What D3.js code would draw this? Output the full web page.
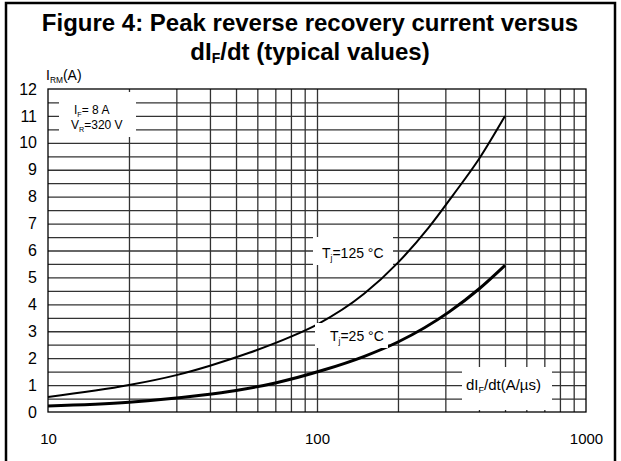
<!DOCTYPE html>
<html>
<head>
<meta charset="utf-8">
<script src="https://cdn.jsdelivr.net/npm/d3@7"></script>
<style>
  body { margin: 0; background: #fff; }
  svg { display: block; font-family: "Liberation Sans", Arial, sans-serif; }
</style>
</head>
<body>
<div id="chart"></div>
<script>
// values
const didt125 = [10, 20, 30, 40, 56, 80, 100, 150, 200, 260, 320, 400, 500];
const irm125 = [0.56, 1.0, 1.37, 1.72, 2.2, 2.8, 3.25, 4.4, 5.55, 6.85, 8.05, 9.4, 11.0];
const didt25 = [10, 20, 37, 50, 70, 105, 150, 200, 310, 400, 500];
const irm25 = [0.22, 0.36, 0.62, 0.8, 1.08, 1.55, 2.07, 2.6, 3.72, 4.57, 5.45];
const xTickLabels = [10, 100, 1000];
const yTickLabels = [0, 1, 2, 3, 4, 5, 6, 7, 8, 9, 10, 11, 12];
const xGrid = [20, 30, 40, 50, 60, 70, 80, 90, 100, 200, 300, 400, 500, 600, 700, 800, 900];
const yGrid = d3.range(0.5, 12, 0.5);

const W = 621, H = 461;
const margin = { top: 89, right: 35, bottom: 49, left: 48 };
const width = W - margin.left - margin.right;   // 538
const height = H - margin.top - margin.bottom;  // 323

const svg = d3.select("#chart").append("svg")
  .attr("width", W)
  .attr("height", H);

// outer frame
svg.append("rect")
  .attr("x", 6).attr("y", 3)
  .attr("width", 609).attr("height", 480)
  .attr("fill", "none")
  .attr("stroke", "#000")
  .attr("stroke-width", 2.5);

// title
const title = svg.append("text")
  .attr("text-anchor", "middle")
  .attr("font-weight", "bold")
  .attr("font-size", 24);
title.append("tspan").attr("x", 310).attr("y", 31)
  .text("Figure 4: Peak reverse recovery current versus");
const t2 = title.append("tspan").attr("x", 310).attr("y", 60);
t2.append("tspan").text("dI");
t2.append("tspan").attr("font-size", 14).attr("dy", 3).text("F");
t2.append("tspan").attr("dy", -3).text("/dt (typical values)");

const g = svg.append("g")
  .attr("transform", "translate(" + margin.left + "," + margin.top + ")");

const x = d3.scaleLog().domain([10, 1000]).range([0, width]);
const y = d3.scaleLinear().domain([0, 12]).range([height, 0]);

// grid lines
g.append("g")
  .attr("class", "xgrid")
  .attr("transform", "translate(0," + height + ")")
  .call(d3.axisBottom(x).tickValues(xGrid).tickSize(-height).tickFormat(""))
  .call(s => s.select(".domain").remove())
  .call(s => s.selectAll(".tick line").attr("stroke", "#333").attr("stroke-width", 1.3));

g.append("g")
  .attr("class", "ygrid")
  .call(d3.axisLeft(y).tickValues(yGrid).tickSize(-width).tickFormat(""))
  .call(s => s.select(".domain").remove())
  .call(s => s.selectAll(".tick line").attr("stroke", "#333").attr("stroke-width", 1.3));

// plot border
g.append("rect")
  .attr("width", width).attr("height", height)
  .attr("fill", "none")
  .attr("stroke", "#000")
  .attr("stroke-width", 1.3);

// tick labels
g.append("g")
  .attr("transform", "translate(0," + height + ")")
  .call(d3.axisBottom(x).tickValues(xTickLabels).tickSize(0).tickPadding(21).tickFormat(d3.format("d")))
  .call(s => s.select(".domain").remove())
  .call(s => s.selectAll("text").attr("font-size", 15).attr("font-family", "Liberation Sans, Arial, sans-serif").attr("fill", "#000"));

g.append("g")
  .call(d3.axisLeft(y).tickValues(yTickLabels).tickSize(0).tickPadding(11).tickFormat(d3.format("d")))
  .call(s => s.select(".domain").remove())
  .call(s => s.selectAll("text").attr("font-size", 16).attr("font-family", "Liberation Sans, Arial, sans-serif").attr("fill", "#000"));

// white label boxes (in pixel space of the page)
const boxes = [
  [59, 92, 77, 45],
  [313, 237, 80, 28],
  [315, 323, 73, 25],
  [462, 367, 90, 43]
];
svg.selectAll("rect.box").data(boxes).enter().append("rect")
  .attr("class", "box")
  .attr("x", d => d[0]).attr("y", d => d[1])
  .attr("width", d => d[2]).attr("height", d => d[3])
  .attr("fill", "#fff");

// curves
const line = d3.line()
  .x(d => x(d[0]))
  .y(d => y(d[1]))
  .curve(d3.curveMonotoneX);

g.append("path")
  .datum(d3.zip(didt125, irm125))
  .attr("fill", "none")
  .attr("stroke", "#000")
  .attr("stroke-width", 2)
  .attr("d", line);

g.append("path")
  .datum(d3.zip(didt25, irm25))
  .attr("fill", "none")
  .attr("stroke", "#000")
  .attr("stroke-width", 3)
  .attr("d", line);

// annotations
function subText(xp, yp, parts, size) {
  const t = svg.append("text").attr("x", xp).attr("y", yp).attr("font-size", size);
  parts.forEach(p => {
    const sp = t.append("tspan").text(p[0]);
    if (p[1] === "sub") sp.attr("font-size", size * 0.6).attr("dy", 3);
    if (p[1] === "up") sp.attr("dy", -3);
  });
  return t;
}

subText(46, 80, [["I"], ["RM", "sub"], ["(A)", "up"]], 14);
subText(74, 114, [["I"], ["F", "sub"], ["= 8 A", "up"]], 12);
subText(71, 129, [["V"], ["R", "sub"], ["=320 V", "up"]], 12);
subText(322, 258, [["T"], ["j", "sub"], ["=125 °C", "up"]], 14);
subText(330, 341, [["T"], ["j", "sub"], ["=25 °C", "up"]], 14);
subText(466, 390, [["dI"], ["F", "sub"], ["/dt(A/µs)", "up"]], 15);
</script>
</body>
</html>
